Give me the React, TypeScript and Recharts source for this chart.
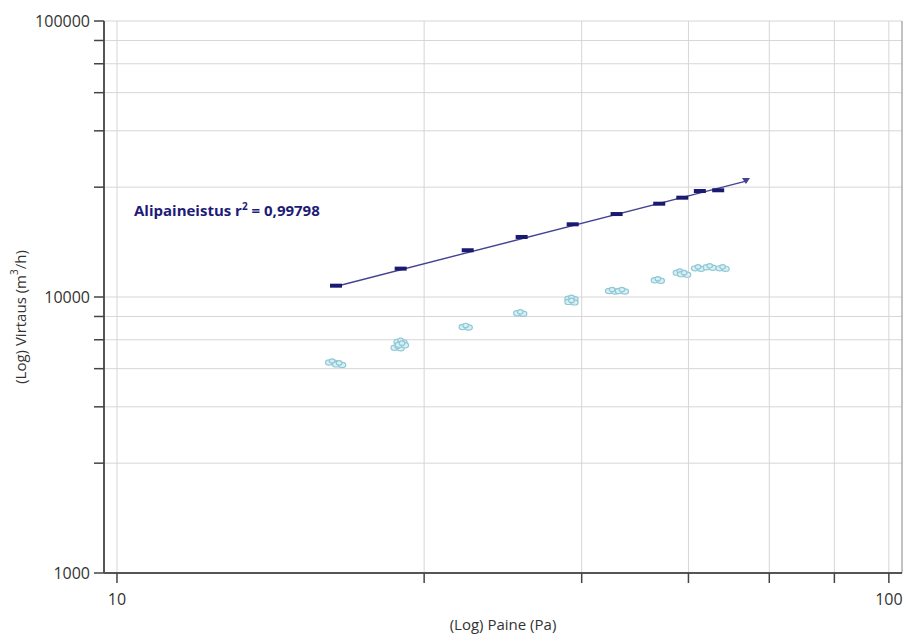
import React from 'react';
import { ComposedChart, XAxis, YAxis, CartesianGrid, Line, Scatter, Label, ReferenceLine } from 'recharts';

// Axis ticks (log scales)
const xTicks = [10, 25, 40, 55, 70, 85, 100];
const xTickLabels: Record<number, string> = { 10: '10', 100: '100' };
const yTicks = [1000, 2500, 4000, 5500, 7000, 8500, 10000, 25000, 40000, 55000, 70000, 85000, 100000];
const yTickLabels: Record<number, string> = { 1000: '1000', 10000: '10000', 100000: '100000' };

// Alipaineistus (depressurisation) measured points
const measuredPressure = [19.22, 23.31, 28.47, 33.44, 38.94, 44.39, 50.41, 54.0, 56.9, 60.1];
const measuredFlow = [10990, 12670, 14770, 16500, 18340, 19980, 21780, 22900, 24210, 24360];

// Fitted line end points
const fitPressure = [19.2, 65.3];
const fitFlow = [10920, 26300];

// Light blue measurement clusters
const cloudPressure = [19.0, 19.4, 23.1, 23.3, 23.4, 28.3, 33.3, 38.8, 38.8, 43.8, 45.1, 50.2, 53.6, 54.3, 56.6, 58.6, 60.9];
const cloudFlow = [5790, 5700, 6550, 6880, 6720, 7790, 8730, 9850, 9600, 10510, 10510, 11500, 12250, 12100, 12700, 12810, 12700];

const measuredData = measuredPressure.map((x, i) => ({ x, y: measuredFlow[i] }));
const fitData = fitPressure.map((x, i) => ({ x, y: fitFlow[i] }));
const cloudData = cloudPressure.map((x, i) => ({ x, y: cloudFlow[i] }));

const NAVY = '#1b1a72';
const LINE = '#45438f';
const CYAN_STROKE = '#8fc8d6';
const CYAN_FILL = '#d9eff4';

const DashMarker = (p: any) => {
  const { cx, cy } = p;
  if (cx == null || cy == null) return null;
  return <rect x={cx - 6} y={cy - 2} width={12} height={4} fill={NAVY} />;
};

const CloudMarker = (p: any) => {
  const { cx, cy } = p;
  if (cx == null || cy == null) return null;
  return (
    <g stroke={CYAN_STROKE} strokeWidth={1.2} fill={CYAN_FILL}>
      <ellipse cx={cx - 3} cy={cy} rx={3.6} ry={2.6} />
      <ellipse cx={cx + 3} cy={cy + 0.5} rx={3.6} ry={2.6} />
      <ellipse cx={cx} cy={cy - 1.5} rx={2.8} ry={2.2} />
    </g>
  );
};

const ArrowDot = (p: any) => {
  const { cx, cy, index } = p;
  if (index !== fitData.length - 1 || cx == null) return <g key={`d${index}`} />;
  return <path key={`d${index}`} d={`M${cx - 4},${cy - 3} L${cx + 4},${cy - 3} L${cx},${cy + 3} Z`} fill={LINE} />;
};

const YLabel = () => (
  <text
    x={20}
    y={317}
    transform="rotate(-90 20 317)"
    textAnchor="middle"
    dominantBaseline="central"
    fontSize={15}
    fill="#333"
  >
    (Log) Virtaus (m<tspan dy={-6} fontSize={10}>3</tspan>
    <tspan dy={6}>/h)</tspan>
  </text>
);

export default function App() {
  return (
    <div
      style={{
        position: 'absolute',
        left: 0,
        top: 0,
        width: 905,
        height: 635,
        background: '#fff',
        fontFamily: '"Open Sans", sans-serif',
      }}
    >
      <ComposedChart width={905} height={635} margin={{ top: 21, right: 3, bottom: 0, left: 0 }}>
        <CartesianGrid stroke="#d6d6d6" strokeWidth={1} />
        <XAxis
          dataKey="x"
          type="number"
          scale="log"
          domain={[9.62, 104]}
          allowDataOverflow
          ticks={xTicks}
          interval={0}
          tickFormatter={(v: number) => xTickLabels[v] ?? ''}
          tickSize={10}
          tickMargin={11}
          height={62}
          tick={{ fontSize: 16, fill: '#333' }}
          axisLine={{ stroke: '#555', strokeWidth: 2 }}
          tickLine={{ stroke: '#444', strokeWidth: 1.5 }}
        >
          <Label value="(Log) Paine (Pa)" position="insideBottom" offset={5} style={{ fontSize: 15, fill: '#333' }} />
        </XAxis>
        <YAxis
          dataKey="y"
          type="number"
          scale="log"
          domain={[1000, 100000]}
          allowDataOverflow
          ticks={yTicks}
          interval={0}
          tickFormatter={(v: number) => yTickLabels[v] ?? ''}
          tickSize={10}
          tickMargin={4}
          width={104}
          tick={{ fontSize: 16, fill: '#333' }}
          axisLine={{ stroke: '#555', strokeWidth: 2 }}
          tickLine={{ stroke: '#444', strokeWidth: 1.5 }}
        >
          <Label content={<YLabel />} />
        </YAxis>
        <ReferenceLine x={104} stroke="#999" strokeWidth={1} ifOverflow="extendDomain" />
        <Scatter data={cloudData} shape={<CloudMarker />} isAnimationActive={false} />
        <Line
          data={fitData}
          dataKey="y"
          stroke={LINE}
          strokeWidth={1.4}
          dot={ArrowDot}
          activeDot={false}
          isAnimationActive={false}
          type="linear"
        />
        <Scatter data={measuredData} shape={<DashMarker />} isAnimationActive={false} />
      </ComposedChart>
      <div
        style={{
          position: 'absolute',
          left: 134,
          top: 200,
          fontSize: 15,
          fontWeight: 700,
          color: '#1d1b78',
          whiteSpace: 'nowrap',
        }}
      >
        Alipaineistus r<sup style={{ fontSize: 10, verticalAlign: 'top', position: 'relative', top: -1 }}>2</sup> = 0,99798
      </div>
    </div>
  );
}
